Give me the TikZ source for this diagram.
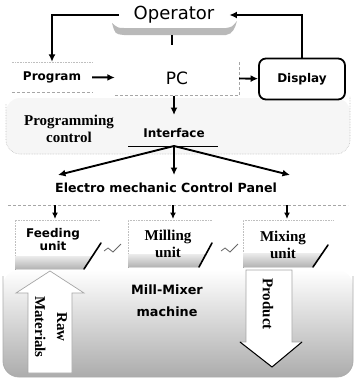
\documentclass[tikz,border=0pt]{standalone}
\usepackage{fontspec}
\setmainfont{Liberation Serif}
\newfontfamily\dv{DejaVu Sans}
\usetikzlibrary{arrows.meta}
\begin{document}
\begin{tikzpicture}[x=1pt,y=-1pt,
 arr/.style={-{Latex[length=7.5pt,width=7pt]},line width=1.9pt},
 sarr/.style={-{Latex[length=6.5pt,width=6pt]},line width=1.7pt},
 sb/.style={font=\dv\bfseries\fontsize{12}{13}\selectfont, inner sep=0pt, align=center},
 rb/.style={font=\bfseries\fontsize{15}{17}\selectfont, inner sep=0pt, align=center},
 faint/.style={draw=gray!50, densely dotted, line width=0.6pt},
 band/.style={top color=gray!15, bottom color=gray!60, draw=none},
 slash/.style={line width=1.6pt, line cap=round},
 blockarrow/.style={fill=white, draw=gray!70, line width=0.7pt}]
\useasboundingbox (0,0) rectangle (356,378);

% ---------- background regions ----------
\fill[gray!7, rounded corners=14] (6,98) rectangle (350,154);
\draw[faint, rounded corners=14] (6,104) -- (6,154) -- (350,154) -- (350,96);
\shade[top color=white, middle color=gray!24, bottom color=gray!65, rounded corners=16] (3,270) rectangle (353,377);
\draw[gray!65, line width=0.8pt, rounded corners=16] (3,276) -- (3,377) -- (353,377) -- (353,276);

% ---------- top part ----------
\node[font=\dv\fontsize{18}{20}\selectfont, inner xsep=15pt, inner ysep=2pt] (op) at (174,15) {Operator};
\fill[gray!55] (112,23) .. controls (115,34) .. (124,35) -- (226,35)
   .. controls (233,34) and (235,28) .. (237,21)
   .. controls (232,27) .. (226,28) -- (124,28) .. controls (118,28) .. (112,23) -- cycle;
\coordinate (s1) at (172,35);
\coordinate (s2) at (172,45);
\draw[line width=1.8pt] (s1) -- (s2);

\node[sb, minimum width=80pt, minimum height=30pt] (prog) at (52,77) {Program};
\draw[faint] (prog.north west) -- (prog.north east);
\draw[gray!70, densely dashed, line width=0.6pt] (prog.south west) -- (prog.south east);

\node[font=\dv\fontsize{17}{18}\selectfont, minimum width=124pt, minimum height=35pt, inner sep=0pt] (pc) at (177,78) {PC};
\draw[gray!70, densely dashed, line width=0.6pt] (pc.south west) -- (pc.south east) -- (pc.north east);

\node[sb, draw, line width=1.8pt, rounded corners=7pt, minimum width=86pt, minimum height=41pt] (disp) at (302,79) {Display};

\draw[arr] (op.west) -| (prog.north);
\draw[arr] (disp.north) |- (op.east);
\draw[arr] (prog) -- (pc);
\draw[arr] (pc) -- (disp);

\node[rb] (pctl) at (69,129) {Programming\\control};
\node[sb, inner sep=1pt] (ifc) at (174,133) {Interface};
\coordinate (ia) at (174,115);
\draw[arr] (pc.south -| ifc.north) -- (ia);

\coordinate (ib) at (174,146);
\coordinate (ul) at (128,146);
\coordinate (ur) at (218,146);
\draw[line width=0.8pt] (ul) -- (ur);
\coordinate (e1) at (58,175);
\coordinate (e2) at (174,175);
\coordinate (e3) at (290,175);
\draw[arr] (ib) -- (e1);
\draw[arr] (ib) -- (e2);
\draw[arr] (ib) -- (e3);

\node[font=\dv\bfseries\fontsize{12.6}{14}\selectfont, inner sep=0pt] (ecp) at (166,188) {Electro mechanic Control Panel};
\coordinate (dl) at (8,205);
\coordinate (dr) at (348,205);
\draw[gray!70, densely dashed, line width=0.6pt] (dl) -- (dr);

% ---------- units ----------
\draw[faint] (15,270) -- (15,220) -- (100,220);
\draw[faint] (128,268) -- (128,220) -- (212,220);
\draw[faint] (243,268) -- (243,220) -- (333,220);

\fill[band] (15,256) -- (92,256) -- (84,269) -- (15,269) -- cycle;
\draw[slash] (101,243) -- (84,269);
\fill[band] (128,254) -- (205,254) -- (199,267) -- (128,267) -- cycle;
\draw[slash] (212,243) -- (199,267);
\fill[band] (243,253) -- (322,253) -- (313,267) -- (243,267) -- cycle;
\draw[slash] (328,245) -- (313,267);

\node[sb] (feed) at (53,240) {Feeding\\unit};
\node[rb] (mill) at (168,244) {Milling\\unit};
\node[rb] (mix) at (283,245) {Mixing\\unit};

\coordinate (a1) at (55,205);  \coordinate (b1) at (55,219);
\coordinate (a2) at (173,205); \coordinate (b2) at (173,219);
\coordinate (a3) at (287,205); \coordinate (b3) at (287,219);
\draw[sarr] (a1) -- (b1);
\draw[sarr] (a2) -- (b2);
\draw[sarr] (a3) -- (b3);

% small squiggle connectors between units
\draw[line width=0.8pt, gray!80!black] (104,251) -- (108,248) -- (113,252) -- (121,244);
\draw[line width=0.8pt, gray!80!black] (221,251) -- (225,248) -- (230,252) -- (238,244);

% ---------- bottom part ----------
\draw[blockarrow] (28,373) -- (28,293) -- (16,293) -- (50,271) -- (84,293) -- (72,293) -- (72,373) -- cycle;
\node[rb, rotate=-90, font=\bfseries\fontsize{15}{22}\selectfont] (raw) at (51,327) {Raw\\Materials};

\draw[blockarrow] (246,270) -- (292,270) -- (292,342) -- (302,342) -- (272,367) -- (240,342) -- (246,342) -- cycle;
\draw[line width=1pt] (240,342) -- (272,367) -- (302,342);
\node[rb, rotate=-90] (prod) at (268,304) {Product};

\node[font=\dv\bfseries\fontsize{12.8}{22}\selectfont, inner sep=0pt, align=center] (mm) at (167,301) {Mill-Mixer\\machine};
\end{tikzpicture}
\end{document}
